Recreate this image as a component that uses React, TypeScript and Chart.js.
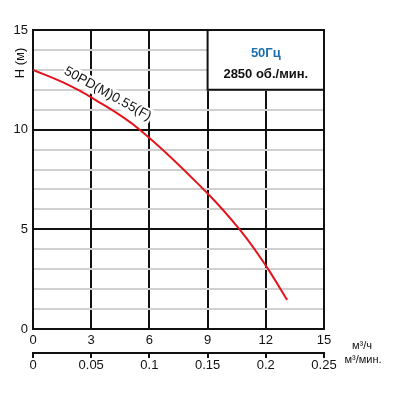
import React, { useEffect, useRef } from "react";
import { Chart, registerables } from "chart.js";

Chart.register(...registerables);

const flowM3h = [0, 1.55, 3, 5.5, 9, 10.7, 12, 13.1];
const headM = [13.0, 12.37, 11.62, 10.0, 6.8, 4.93, 3.18, 1.46];
const xTicksM3h = [0, 3, 6, 9, 12, 15];
const xTicksM3min = [0, 0.05, 0.1, 0.15, 0.2, 0.25];
const yTicksMajor = [0, 5, 10, 15];
const curveName = "50PD(M)0.55(F)";
const freqText = "50Гц";
const rpmText = "2850 об./мин.";
const yTitle = "H (м)";
const unitM3h = "м³/ч";
const unitM3min = "м³/мин.";

const FONT = "Arial, 'Liberation Sans', sans-serif";

const overlay = {
  id: "overlay",
  beforeDatasetsDraw(chart: any) {
    const { ctx, chartArea, scales } = chart;
    const x = scales.x, y = scales.y;
    ctx.save();
    // legend box
    const bx0 = x.getPixelForValue(9), bx1 = x.getPixelForValue(15);
    const by0 = y.getPixelForValue(15), by1 = y.getPixelForValue(12);
    ctx.fillStyle = "#fff";
    ctx.fillRect(bx0, by0, bx1 - bx0, by1 - by0);
    ctx.strokeStyle = "#111";
    ctx.lineWidth = 2;
    ctx.beginPath();
    ctx.moveTo(bx0, by0);
    ctx.lineTo(bx0, by1);
    ctx.lineTo(bx1, by1);
    ctx.stroke();
    ctx.textAlign = "center";
    ctx.textBaseline = "middle";
    ctx.fillStyle = "#1f6fae";
    ctx.font = `bold 13px ${FONT}`;
    ctx.fillText(freqText, (bx0 + bx1) / 2, by0 + 23);
    ctx.fillStyle = "#111";
    ctx.fillText(rpmText, (bx0 + bx1) / 2, by0 + 44);
    // plot border
    ctx.strokeStyle = "#111";
    ctx.lineWidth = 2;
    ctx.strokeRect(chartArea.left, chartArea.top, chartArea.right - chartArea.left, chartArea.bottom - chartArea.top);
    // curve label
    const cx = x.getPixelForValue(3.85), cy = y.getPixelForValue(11.8);
    ctx.translate(cx, cy);
    ctx.rotate((29 * Math.PI) / 180);
    ctx.font = `13.5px ${FONT}`;
    const w = ctx.measureText(curveName).width;
    ctx.fillStyle = "#fff";
    ctx.fillRect(-w / 2 - 1, -8, w + 2, 16);
    ctx.fillStyle = "#111";
    ctx.fillText(curveName, 0, 0);
    ctx.restore();
  },
  afterDraw(chart: any) {
    const { ctx } = chart;
    ctx.save();
    ctx.fillStyle = "#111";
    ctx.textAlign = "center";
    ctx.textBaseline = "middle";
    ctx.font = `13px ${FONT}`;
    ctx.translate(20, 63);
    ctx.rotate(-Math.PI / 2);
    ctx.fillText(yTitle, 0, 0);
    ctx.restore();
    ctx.save();
    ctx.fillStyle = "#111";
    ctx.textAlign = "center";
    ctx.textBaseline = "middle";
    ctx.font = `11px ${FONT}`;
    ctx.fillText(unitM3h, 362, 346);
    ctx.fillText(unitM3min, 363, 360);
    ctx.restore();
  },
};

export default function App() {
  const ref = useRef<HTMLCanvasElement | null>(null);
  useEffect(() => {
    if (!ref.current) return;
    const chart = new Chart(ref.current, {
      type: "line",
      data: {
        datasets: [
          {
            data: flowM3h.map((q, i) => ({ x: q, y: headM[i] })),
            borderColor: "#e3141c",
            borderWidth: 2,
            pointRadius: 0,
            tension: 0.4,
            fill: false,
          },
        ],
      },
      options: {
        responsive: false,
        animation: false,
        events: [],
        layout: { padding: { top: 30, left: 0, right: 76, bottom: 21 } },
        plugins: { legend: { display: false }, tooltip: { enabled: false } },
        scales: {
          x: {
            type: "linear",
            position: "bottom",
            min: 0,
            max: 15,
            afterBuildTicks: (s: any) => {
              s.ticks = xTicksM3h.map((v) => ({ value: v }));
            },
            afterFit: (s: any) => {
              s.height = 24;
            },
            ticks: { color: "#111", font: { family: FONT, size: 13 }, padding: 4, maxRotation: 0 },
            grid: { color: "#111", lineWidth: 2, drawTicks: false },
            border: { display: false },
          },
          x2: {
            type: "linear",
            position: "bottom",
            min: 0,
            max: 0.25,
            afterBuildTicks: (s: any) => {
              s.ticks = xTicksM3min.map((v) => ({ value: v }));
            },
            afterFit: (s: any) => {
              s.height = 25;
            },
            ticks: {
              color: "#111",
              font: { family: FONT, size: 13 },
              padding: 0,
              maxRotation: 0,
              callback: (v: any) => String(v),
            },
            grid: { drawOnChartArea: false, drawTicks: true, tickLength: 5, color: "#111", lineWidth: 2 },
            border: { display: true, color: "#111", width: 2 },
          },
          y: {
            type: "linear",
            min: 0,
            max: 15,
            afterBuildTicks: (s: any) => {
              const t = [];
              for (let v = 0; v <= 15; v++) t.push({ value: v });
              s.ticks = t;
            },
            afterFit: (s: any) => {
              s.width = 33;
            },
            ticks: {
              color: "#111",
              font: { family: FONT, size: 13 },
              padding: 5,
              autoSkip: false,
              callback: (v: any) => (yTicksMajor.includes(Number(v)) ? String(v) : ""),
            },
            grid: {
              drawTicks: false,
              lineWidth: 2,
              color: (c: any) => (c.tick && c.tick.value % 5 === 0 ? "#111" : "#d0d0d0"),
            },
            border: { display: false },
          },
        },
      },
      plugins: [overlay],
    } as any);
    return () => chart.destroy();
  }, []);
  return (
    <div style={{ position: "absolute", left: 0, top: 0, width: 400, height: 399, background: "#fff" }}>
      <canvas ref={ref} width={400} height={399} style={{ display: "block" }} />
    </div>
  );
}
